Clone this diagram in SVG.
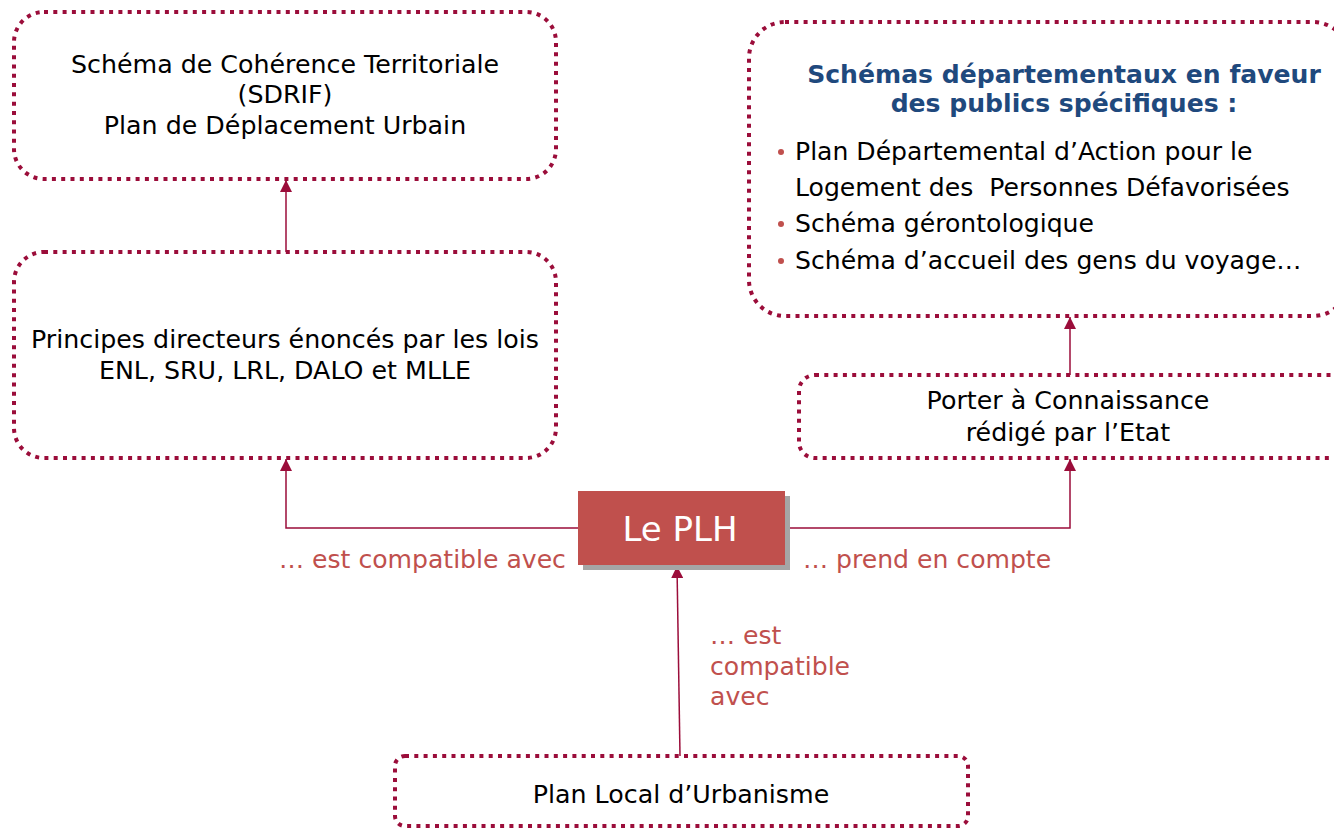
<svg xmlns="http://www.w3.org/2000/svg" width="1334" height="829" viewBox="0 0 1334 829">
<defs>
<style>
.box{fill:#fff;stroke:#9B0D3A;stroke-width:4;stroke-dasharray:4 5.3;}
.t{font-family:"DejaVu Sans",Verdana,sans-serif;font-size:25.3px;fill:#000;text-anchor:middle;}
.tl{font-family:"DejaVu Sans",Verdana,sans-serif;font-size:25.1px;fill:#000;}
.h{font-family:"DejaVu Sans",Verdana,sans-serif;font-size:25.1px;font-weight:bold;fill:#1F497D;text-anchor:middle;}
.lab{font-family:"DejaVu Sans",Verdana,sans-serif;font-size:25.1px;fill:#C0504D;}
.bul{fill:#C0504D;}
.c{fill:none;stroke:#9B0D3A;stroke-width:1.5;}
</style>
<marker id="arr" viewBox="0 0 12 12" refX="12" refY="6" markerWidth="12" markerHeight="12" markerUnits="userSpaceOnUse" orient="auto">
<path d="M0,0 L12,6 L0,12 z" fill="#9B0D3A"/>
</marker>
</defs>
<rect width="1334" height="829" fill="#fff"/>
<g id="connectors">
<polyline class="c" points="578,528 286,528 286,459" marker-end="url(#arr)"/>
<polyline class="c" points="785,528 1070,528 1070,459" marker-end="url(#arr)"/>
<line class="c" x1="1070" y1="375" x2="1070" y2="317" marker-end="url(#arr)"/>
<line class="c" x1="286" y1="252" x2="286" y2="180" marker-end="url(#arr)"/>
<line class="c" x1="680" y1="756" x2="677" y2="566" marker-end="url(#arr)"/>
</g>
<g id="scot">
<rect class="box" x="14" y="12" width="542" height="167" rx="30"/>
<text class="t" x="285" y="73">Schéma de Cohérence Territoriale</text>
<text class="t" x="285" y="103">(SDRIF)</text>
<text class="t" x="285" y="134">Plan de Déplacement Urbain</text>
</g>
<g id="principes">
<rect class="box" x="14" y="252" width="542" height="206" rx="30"/>
<text class="t" x="285" y="348">Principes directeurs énoncés par les lois</text>
<text class="t" x="285" y="379">ENL, SRU, LRL, DALO et MLLE</text>
</g>
<g id="schemas">
<rect class="box" x="749" y="22" width="600" height="294" rx="36"/>
<text class="h" x="1064" y="83">Schémas départementaux en faveur</text>
<text class="h" x="1064" y="112">des publics spécifiques :</text>
<circle class="bul" cx="781" cy="152" r="3"/>
<text class="tl" x="795" y="160">Plan Départemental d’Action pour le</text>
<text class="tl" x="795" y="196" xml:space="preserve">Logement des  Personnes Défavorisées</text>
<circle class="bul" cx="781" cy="224" r="3"/>
<text class="tl" x="795" y="232">Schéma gérontologique</text>
<circle class="bul" cx="781" cy="261" r="3"/>
<text class="tl" x="795" y="269">Schéma d’accueil des gens du voyage…</text>
</g>
<g id="pac">
<rect class="box" x="799" y="375" width="550" height="83" rx="16"/>
<text class="t" x="1068" y="409">Porter à Connaissance</text>
<text class="t" x="1068" y="441">rédigé par l’Etat</text>
</g>
<g id="plh">
<rect x="583" y="496" width="207" height="74" fill="#A5A5A5"/>
<rect x="578" y="491" width="207" height="74" fill="#C0504D"/>
<text x="680" y="541" font-family="DejaVu Sans,Verdana,sans-serif" font-size="34" fill="#fff" text-anchor="middle">Le PLH</text>
</g>
<g id="plu">
<rect class="box" x="395" y="756" width="573" height="70" rx="10"/>
<text class="t" x="681" y="803">Plan Local d’Urbanisme</text>
</g>
<g id="labels">
<text class="lab" x="279" y="568">… est compatible avec</text>
<text class="lab" x="803" y="568">… prend en compte</text>
<text class="lab" x="710" y="644">… est</text>
<text class="lab" x="710" y="675">compatible</text>
<text class="lab" x="710" y="705">avec</text>
</g>
</svg>
